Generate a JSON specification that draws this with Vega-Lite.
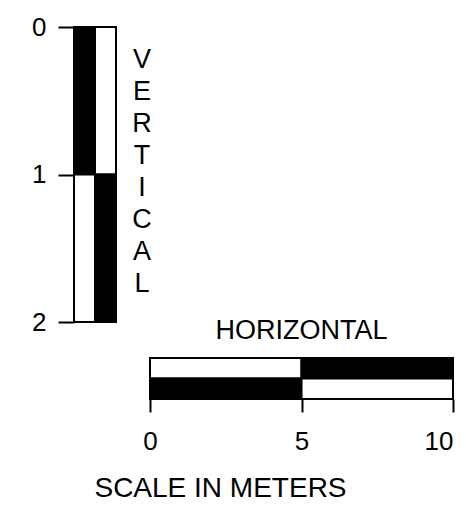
{
  "$schema": "https://vega.github.io/schema/vega-lite/v6.json",
  "width": 466,
  "height": 513,
  "padding": 0,
  "autosize": {"type": "none"},
  "background": "white",
  "config": {"view": {"stroke": null}, "font": "Liberation Sans"},
  "datasets": {
    "vbar": [
      {"x0": 0, "x1": 1, "y0": 0, "y1": 1, "fill": "black"},
      {"x0": 0, "x1": 1, "y0": 1, "y1": 2, "fill": "white"},
      {"x0": 1, "x1": 2, "y0": 0, "y1": 1, "fill": "white"},
      {"x0": 1, "x1": 2, "y0": 1, "y1": 2, "fill": "black"}
    ],
    "vlabel": [{"label": "V|E|R|T|I|C|A|L", "x0": 3.24, "y0": 0.225}],
    "hbar": [
      {"x0": 0, "x1": 5, "y0": 0, "y1": 1, "fill": "white"},
      {"x0": 5, "x1": 10, "y0": 0, "y1": 1, "fill": "black"},
      {"x0": 0, "x1": 5, "y0": 1, "y1": 2, "fill": "black"},
      {"x0": 5, "x1": 10, "y0": 1, "y1": 2, "fill": "white"}
    ],
    "hlabel": [{"label": "HORIZONTAL", "x0": 5, "y0": -1.32}]
  },
  "layer": [
    {
      "layer": [
        {
          "data": {"name": "vbar"},
          "mark": {"type": "rect", "stroke": "black", "strokeWidth": 2},
          "encoding": {
            "x": {"field": "x0", "type": "quantitative", "scale": {"domain": [0, 2], "range": [74, 116], "nice": false, "zero": false}, "axis": null},
            "x2": {"field": "x1"},
            "y": {"field": "y0", "type": "quantitative", "scale": {"domain": [0, 2], "range": [27, 322], "nice": false, "zero": false},
              "axis": {"values": [0, 1, 2], "labelExpr": "toString(datum.value)", "offset": -74, "domain": false, "grid": false, "title": null, "tickSize": 16, "tickWidth": 2, "tickColor": "black", "labelFontSize": 26, "labelColor": "black", "labelPadding": 12, "labelFlush": false, "labelOverlap": false, "labelBound": false, "labelFont": "Liberation Sans"}},
            "y2": {"field": "y1"},
            "color": {"field": "fill", "type": "nominal", "scale": {"domain": ["black", "white"], "range": ["#000000", "#ffffff"]}, "legend": null}
          }
        },
        {
          "data": {"name": "vlabel"},
          "mark": {"type": "text", "lineBreak": "|", "lineHeight": 32, "fontSize": 27, "align": "center", "baseline": "middle", "color": "black", "font": "Liberation Sans"},
          "encoding": {
            "x": {"field": "x0", "type": "quantitative", "axis": null},
            "y": {"field": "y0", "type": "quantitative"},
            "text": {"field": "label"}
          }
        }
      ]
    },
    {
      "layer": [
        {
          "data": {"name": "hbar"},
          "mark": {"type": "rect", "stroke": "black", "strokeWidth": 2},
          "encoding": {
            "x": {"field": "x0", "type": "quantitative", "scale": {"domain": [0, 10], "range": [150, 453], "nice": false, "zero": false},
              "axis": {"values": [0, 5, 10], "labelExpr": "toString(datum.value)", "offset": -114, "domain": false, "grid": false, "tickSize": 13, "tickWidth": 2, "tickColor": "black", "labelFontSize": 26, "labelColor": "black", "labelPadding": 16, "labelAlign": {"condition": {"test": "datum.value == 10", "value": "right"}, "value": "center"}, "labelFlush": false, "labelOverlap": false, "labelBound": false, "labelFont": "Liberation Sans",
                "title": "SCALE IN METERS", "titleFont": "Liberation Sans", "titleFontSize": 28, "titleFontWeight": "normal", "titleColor": "black", "titleX": 220, "titleY": 89, "titleBaseline": "middle", "titleAlign": "center"}},
            "x2": {"field": "x1"},
            "y": {"field": "y0", "type": "quantitative", "scale": {"domain": [0, 2], "range": [358, 399], "nice": false, "zero": false}, "axis": null},
            "y2": {"field": "y1"},
            "color": {"field": "fill", "type": "nominal", "scale": {"domain": ["black", "white"], "range": ["#000000", "#ffffff"]}, "legend": null}
          }
        },
        {
          "data": {"name": "hlabel"},
          "mark": {"type": "text", "fontSize": 27, "align": "center", "baseline": "middle", "color": "black", "font": "Liberation Sans"},
          "encoding": {
            "x": {"field": "x0", "type": "quantitative"},
            "y": {"field": "y0", "type": "quantitative", "axis": null},
            "text": {"field": "label"}
          }
        }
      ]
    }
  ],
  "resolve": {"scale": {"x": "independent", "y": "independent"}, "axis": {"x": "independent", "y": "independent"}}
}
